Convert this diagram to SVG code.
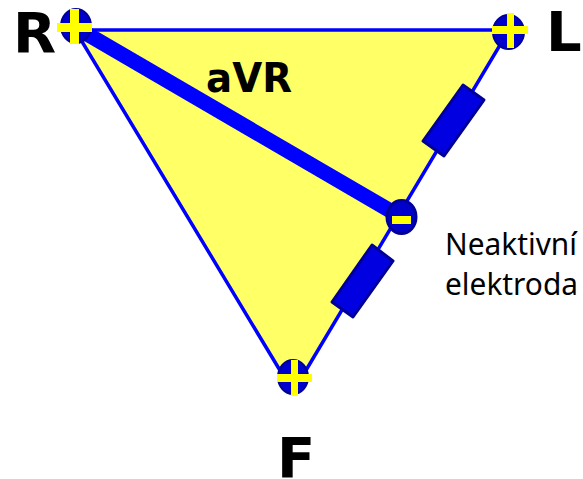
<svg xmlns="http://www.w3.org/2000/svg" width="583" height="479" viewBox="0 0 583 479">
<style>
.wire{fill:none;stroke:#0000ff;stroke-width:15}
.res{fill:#0000e0;stroke:#000099;stroke-width:3;stroke-linejoin:round}
.ball{fill:#0000cc;stroke:#000099;stroke-width:2}
.sign{fill:#ffff00}
.big{font-family:"DejaVu Sans",sans-serif;font-weight:bold;fill:#000}
.small{font-family:"Noto Sans",sans-serif;font-size:31px;fill:#000}
</style>
<rect width="583" height="479" fill="#fff"/>
<g id="triangle"><polygon points="75,30 509,30 293,392" fill="#ffff66" stroke="#0000ff" stroke-width="3.5"/></g>
<g id="connectors">
<line class="wire" x1="75" y1="27" x2="401" y2="217"/>
</g>
<g id="resistor-1"><polygon class="res" points="463,85 484,100 444,156 423,141"/></g>
<g id="resistor-2"><polygon class="res" points="372,245 393,261 353,317 332,302"/></g>
<g id="node-R"><ellipse class="ball" cx="76" cy="26" rx="15" ry="17"/><rect class="sign" x="57" y="23" width="35" height="9"/><rect class="sign" x="70" y="9" width="9" height="35"/><text class="big" x="13" y="52" font-size="56">R</text></g>
<g id="node-L"><ellipse class="ball" cx="508.500" cy="32" rx="15.500" ry="17"/><rect class="sign" x="492" y="26" width="36" height="8"/><rect class="sign" x="507" y="13" width="7" height="35"/><text class="big" x="546" y="51" font-size="56">L</text></g>
<g id="node-F"><ellipse class="ball" cx="293" cy="377" rx="15" ry="17"/><rect class="sign" x="277" y="374" width="35" height="8"/><rect class="sign" x="291" y="360" width="7" height="36"/><text class="big" x="277" y="477" font-size="56">F</text></g>
<g id="node-minus"><ellipse class="ball" cx="401.500" cy="217" rx="14.500" ry="16.500" style="stroke-width:3"/><rect class="sign" x="392" y="216" width="19" height="8"/></g>
<g id="labels">
<text class="big" x="206" y="92" font-size="41" textLength="86" lengthAdjust="spacingAndGlyphs">aVR</text>
<text class="small" x="445" y="255" textLength="132" lengthAdjust="spacingAndGlyphs">Neaktivní</text>
<text class="small" x="445" y="295" textLength="133" lengthAdjust="spacingAndGlyphs">elektroda</text>
</g>
</svg>
